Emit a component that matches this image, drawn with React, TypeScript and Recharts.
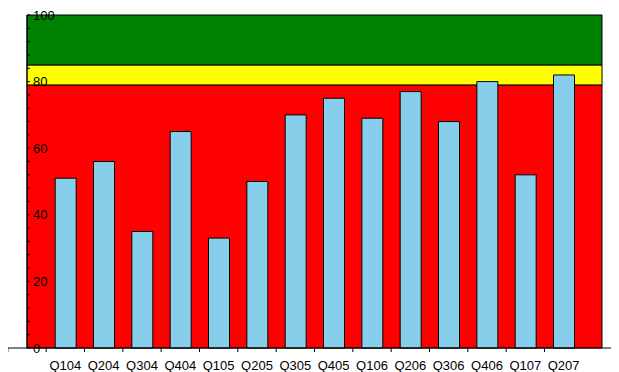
import React from 'react';
import {
  BarChart,
  Bar,
  XAxis,
  YAxis,
  ReferenceArea,
  ReferenceLine,
} from 'recharts';

// Quarterly scores
const QUARTERS = [
  'Q104', 'Q204', 'Q304', 'Q404',
  'Q105', 'Q205', 'Q305', 'Q405',
  'Q106', 'Q206', 'Q306', 'Q406',
  'Q107', 'Q207',
];
const SCORES = [51, 56, 35, 65, 33, 50, 70, 75, 69, 77, 68, 80, 52, 82];

// Background zones: [from, to, colour]
const ZONE_LIMITS = [0, 79, 85, 100];
const ZONE_COLORS = ['#ff0000', '#ffff00', '#008000'];

// Y-axis tick values (minor every 4, labelled every 20)
const Y_TICKS = Array.from({ length: 26 }, (_, i) => i * 4);
const Y_LABEL_STEP = 20;

// Horizontal extent of the plot (in category index units)
const X_MIN = -1;
const X_MAX = 14;
// The baseline axis runs a little past the plot on both sides
const AXIS_LEFT = -1.5;
const AXIS_RIGHT = 14.44;
const SLOT_EDGES = QUARTERS.map((_, i) => i - 0.5).concat([-1.5]);

const data = QUARTERS.map((q, i) => ({ idx: i, quarter: q, score: SCORES[i] }));

const FONT = 'Arial, "Liberation Sans", sans-serif';

export default function App() {
  return (
    <BarChart
      width={611}
      height={364}
      data={data}
      margin={{ top: 7, left: 19, right: 17, bottom: 0 }}
    >
      {ZONE_COLORS.map((c, i) => (
        <ReferenceArea
          key={c}
          x1={X_MIN}
          x2={X_MAX}
          y1={ZONE_LIMITS[i]}
          y2={ZONE_LIMITS[i + 1]}
          fill={c}
          fillOpacity={1}
          stroke="#000"
          strokeWidth={1}
          zIndex={-50}
        />
      ))}
      <Bar
        dataKey="score"
        fill="#87ceeb"
        stroke="#000"
        strokeWidth={1}
        barSize={21}
        isAnimationActive={false}
      />
      <XAxis
        dataKey="idx"
        type="number"
        domain={[X_MIN, X_MAX]}
        allowDataOverflow
        ticks={QUARTERS.map((_, i) => i)}
        tickFormatter={(i: number) => QUARTERS[i] ?? ''}
        axisLine={false}
        tickLine={false}
        tickSize={0}
        tickMargin={13}
        height={24}
        interval={0}
        tick={{ fill: '#000', fontSize: 13, fontFamily: FONT }}
      />
      <YAxis
        type="number"
        domain={[0, 100]}
        ticks={Y_TICKS}
        interval={0}
        mirror
        axisLine={{ stroke: '#000' }}
        tickLine={{ stroke: '#000' }}
        tickSize={3}
        tickMargin={3}
        tickFormatter={(v: number) => (v % Y_LABEL_STEP === 0 ? String(v) : '')}
        tick={{ fill: '#000', fontSize: 13, fontFamily: FONT }}
        zIndex={1000}
      />
      <ReferenceLine
        segment={[
          { x: AXIS_LEFT, y: 0 },
          { x: AXIS_RIGHT, y: 0 },
        ]}
        stroke="#000"
        strokeWidth={1}
        ifOverflow="visible"
      />
      {SLOT_EDGES.map((e) => (
        <ReferenceLine
          key={e}
          segment={[
            { x: e, y: 0 },
            { x: e, y: -1.2 },
          ]}
          stroke="#000"
          strokeWidth={1}
          ifOverflow="visible"
        />
      ))}
    </BarChart>
  );
}
